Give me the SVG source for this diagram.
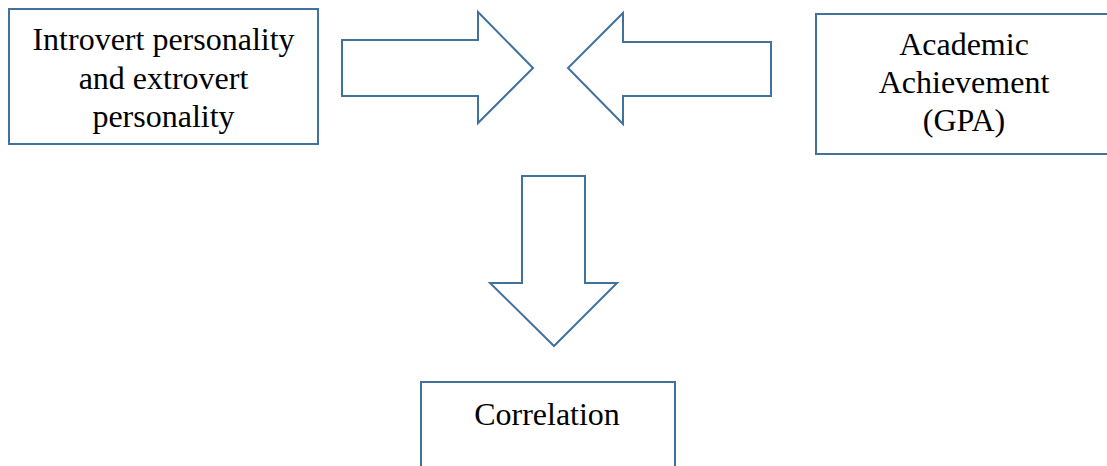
<svg xmlns="http://www.w3.org/2000/svg" width="1107" height="466" viewBox="0 0 1107 466">
<style>
.box{fill:#fff;stroke:#41719c;stroke-width:2}
.arr{fill:#fff;stroke:#41719c;stroke-width:2;stroke-linejoin:miter}
.t{font-family:"Liberation Serif","Times New Roman",serif;font-size:32px;fill:#000;text-anchor:middle}
</style>
<rect width="1107" height="466" fill="#fff"/>
<g id="node-personality">
<rect class="box" x="9" y="9" width="309" height="135"/>
<text class="t" x="163.5" y="50">Introvert personality</text>
<text class="t" x="163.5" y="89">and extrovert</text>
<text class="t" x="163.5" y="127">personality</text>
</g>
<g id="node-gpa">
<rect class="box" x="816" y="14" width="300" height="140"/>
<text class="t" x="964" y="55">Academic</text>
<text class="t" x="964" y="93">Achievement</text>
<text class="t" x="964" y="131">(GPA)</text>
</g>
<g id="node-correlation">
<rect class="box" x="421" y="382" width="254" height="100"/>
<text class="t" x="547" y="425">Correlation</text>
</g>
<g id="connectors">
<polygon class="arr" points="342,40 478,40 478,12 533,68 478,123 478,96 342,96"/>
<polygon class="arr" points="771,42 623,42 623,13 568,68 623,124 623,96 771,96"/>
<polygon class="arr" points="522,176 585,176 585,283 617,283 554,346 490,283 522,283"/>
</g>
</svg>
